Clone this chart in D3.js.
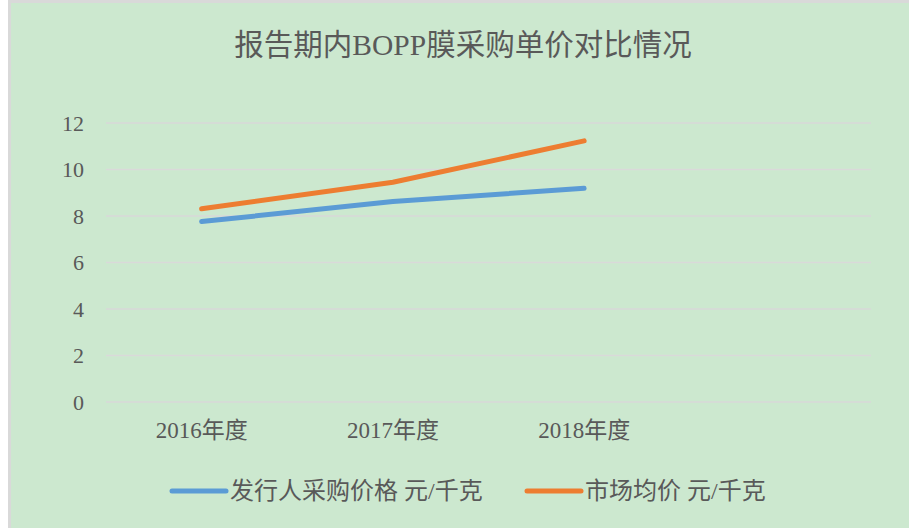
<!DOCTYPE html>
<html>
<head>
<meta charset="utf-8">
<script src="https://cdn.jsdelivr.net/npm/d3@7"></script>
<style>
  body { margin: 0; background: #fff; }
  text { font-family: "Liberation Serif", "Noto Sans CJK SC", serif; fill: #595959; }
</style>
</head>
<body>
<div id="chart"></div>
<script>
var years = ["2016年度", "2017年度", "2018年度", ""];
var issuerPrice = [7.76, 8.62, 9.19];
var marketPrice = [8.31, 9.45, 11.23];
var yTicks = [0, 2, 4, 6, 8, 10, 12];
var seriesNames = ["发行人采购价格 元/千克", "市场均价 元/千克"];

var width = 909, height = 528;
var margin = { top: 123, right: 38, bottom: 126, left: 106 };

var svg = d3.select("#chart").append("svg")
    .attr("width", width)
    .attr("height", height);

// frame + background
svg.append("rect")
    .attr("x", 8).attr("y", 0)
    .attr("width", width - 8).attr("height", height)
    .attr("fill", "#d9d9d9");
svg.append("rect")
    .attr("x", 11).attr("y", 3)
    .attr("width", width - 11).attr("height", height - 3)
    .attr("fill", "#cce8cf");

var x = d3.scaleBand()
    .domain(years)
    .range([margin.left, width - margin.right]);

var y = d3.scaleLinear()
    .domain([0, 12])
    .range([height - margin.bottom, margin.top]);

// gridlines
svg.append("g")
  .selectAll("line")
  .data(yTicks)
  .join("line")
    .attr("x1", margin.left)
    .attr("x2", width - margin.right)
    .attr("y1", d => y(d))
    .attr("y2", d => y(d))
    .attr("stroke", "#d9d9d9")
    .attr("stroke-width", 1.3);

var yAxis = d3.axisLeft(y).tickValues(yTicks).tickSize(0).tickPadding(22);
svg.append("g")
    .attr("transform", "translate(" + margin.left + ",0)")
    .call(yAxis)
    .call(g => g.select(".domain").remove())
    .selectAll("text")
      .attr("font-size", "22px")
      .attr("fill", "#595959");

var xAxis = d3.axisBottom(x).tickSize(0).tickPadding(20);
svg.append("g")
    .attr("transform", "translate(0," + (height - margin.bottom) + ")")
    .call(xAxis)
    .call(g => g.select(".domain").remove())
    .selectAll("text")
      .attr("font-size", "23px")
      .attr("fill", "#595959");

d3.selectAll("g.tick text").style("font-family", "'Liberation Serif', 'Noto Sans CJK SC', serif");

var line = d3.line()
    .x((d, i) => x(years[i]) + x.bandwidth() / 2)
    .y(d => y(d));

var series = [
  { name: seriesNames[0], values: issuerPrice, color: "#5b9bd5" },
  { name: seriesNames[1], values: marketPrice, color: "#ed7d31" }
];

svg.append("g")
  .selectAll("path")
  .data(series)
  .join("path")
    .attr("d", d => line(d.values))
    .attr("fill", "none")
    .attr("stroke", d => d.color)
    .attr("stroke-width", 5)
    .attr("stroke-linecap", "round")
    .attr("stroke-linejoin", "round");

// title
svg.append("text")
    .attr("x", 463)
    .attr("y", 55)
    .attr("text-anchor", "middle")
    .attr("font-size", "29.5px")
    .attr("fill", "#6b6b6b")
    .text("报告期内BOPP膜采购单价对比情况");

// legend
var legendX = [172, 527];
var legend = svg.append("g")
  .selectAll("g")
  .data(series)
  .join("g")
    .attr("transform", (d, i) => "translate(" + legendX[i] + ",491)");

legend.append("line")
    .attr("x1", 0).attr("x2", 54)
    .attr("stroke", d => d.color)
    .attr("stroke-width", 5)
    .attr("stroke-linecap", "round");

legend.append("text")
    .attr("x", 58)
    .attr("y", 8)
    .attr("font-size", "24px")
    .attr("fill", "#6b6b6b")
    .text(d => d.name);
</script>
</body>
</html>
